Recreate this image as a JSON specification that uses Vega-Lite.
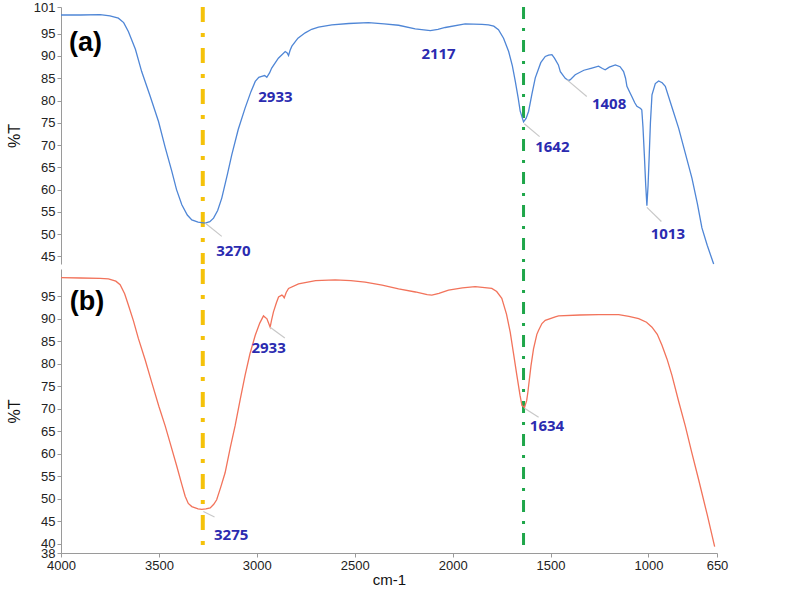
{
  "$schema": "https://vega.github.io/schema/vega-lite/v6.json",
  "background": "white",
  "padding": {"left": 6, "top": 1, "right": 5, "bottom": 5},
  "spacing": 0,
  "datasets": {
    "a": [
      {"x":4000,"y":99.2},{"x":3900,"y":99.2},{"x":3800,"y":99.3},{"x":3750,"y":99.0},{"x":3707,"y":98.5},
      {"x":3680,"y":97.5},{"x":3656,"y":95.5},{"x":3620,"y":91.5},{"x":3588,"y":86.5},{"x":3545,"y":81.0},
      {"x":3502,"y":75.3},{"x":3468,"y":69.5},{"x":3434,"y":64.1},{"x":3410,"y":60.0},{"x":3383,"y":56.6},
      {"x":3355,"y":54.3},{"x":3332,"y":53.2},{"x":3300,"y":52.7},{"x":3264,"y":52.5},{"x":3240,"y":52.8},
      {"x":3221,"y":53.6},{"x":3200,"y":55.3},{"x":3179,"y":58.1},{"x":3150,"y":63.5},{"x":3128,"y":67.8},
      {"x":3095,"y":73.5},{"x":3060,"y":78.3},{"x":3030,"y":82.0},{"x":3008,"y":84.3},{"x":2990,"y":85.2},
      {"x":2975,"y":85.4},{"x":2960,"y":85.6},{"x":2949,"y":85.2},{"x":2935,"y":86.2},{"x":2924,"y":87.3},
      {"x":2890,"y":89.5},{"x":2855,"y":91.0},{"x":2845,"y":90.7},{"x":2838,"y":90.1},{"x":2830,"y":91.3},
      {"x":2821,"y":92.2},{"x":2790,"y":94.0},{"x":2753,"y":95.2},{"x":2720,"y":96.0},{"x":2685,"y":96.5},
      {"x":2617,"y":97.0},{"x":2530,"y":97.3},{"x":2430,"y":97.5},{"x":2350,"y":97.2},{"x":2276,"y":96.9},
      {"x":2191,"y":96.1},{"x":2114,"y":95.7},{"x":2075,"y":96.0},{"x":2038,"y":96.4},{"x":1936,"y":97.2},
      {"x":1850,"y":97.1},{"x":1817,"y":97.0},{"x":1790,"y":96.7},{"x":1766,"y":95.9},{"x":1740,"y":94.0},
      {"x":1714,"y":91.0},{"x":1695,"y":87.8},{"x":1680,"y":84.3},{"x":1665,"y":80.5},{"x":1655,"y":77.6},
      {"x":1638,"y":75.2},{"x":1625,"y":76.0},{"x":1612,"y":77.6},{"x":1595,"y":81.5},{"x":1578,"y":85.1},
      {"x":1550,"y":88.5},{"x":1527,"y":89.9},{"x":1510,"y":90.2},{"x":1493,"y":90.3},{"x":1480,"y":89.5},
      {"x":1460,"y":88.0},{"x":1450,"y":86.5},{"x":1425,"y":85.0},{"x":1408,"y":84.5},{"x":1399,"y":84.7},
      {"x":1374,"y":85.8},{"x":1330,"y":86.8},{"x":1289,"y":87.3},{"x":1255,"y":87.7},{"x":1235,"y":87.2},
      {"x":1221,"y":86.9},{"x":1200,"y":87.5},{"x":1169,"y":88.0},{"x":1145,"y":87.6},{"x":1127,"y":86.5},
      {"x":1117,"y":85.0},{"x":1110,"y":83.2},{"x":1095,"y":81.8},{"x":1085,"y":80.9},{"x":1070,"y":79.5},
      {"x":1059,"y":78.7},{"x":1040,"y":78.2},{"x":1034,"y":77.9},{"x":1028,"y":74.0},{"x":1021,"y":67.8},
      {"x":1014,"y":61.0},{"x":1008,"y":56.4},{"x":1002,"y":61.0},{"x":996,"y":67.8},{"x":990,"y":75.0},
      {"x":982,"y":81.3},{"x":965,"y":83.8},{"x":948,"y":84.4},{"x":930,"y":84.0},{"x":914,"y":83.2},
      {"x":880,"y":78.5},{"x":846,"y":73.8},{"x":812,"y":68.2},{"x":778,"y":62.6},{"x":750,"y":56.8},
      {"x":727,"y":51.4},{"x":700,"y":47.5},{"x":667,"y":43.3}
    ],
    "b": [
      {"x":4000,"y":99.1},{"x":3900,"y":99.0},{"x":3800,"y":98.9},{"x":3758,"y":98.8},{"x":3720,"y":98.3},
      {"x":3698,"y":97.5},{"x":3675,"y":95.5},{"x":3656,"y":93.0},{"x":3630,"y":89.5},{"x":3605,"y":85.6},
      {"x":3570,"y":80.8},{"x":3537,"y":75.9},{"x":3500,"y":70.5},{"x":3468,"y":66.2},{"x":3440,"y":62.0},
      {"x":3409,"y":57.3},{"x":3385,"y":53.5},{"x":3366,"y":50.6},{"x":3350,"y":49.0},{"x":3332,"y":48.3},
      {"x":3300,"y":47.8},{"x":3281,"y":47.7},{"x":3260,"y":47.8},{"x":3238,"y":48.0},{"x":3220,"y":48.8},
      {"x":3205,"y":49.8},{"x":3185,"y":52.5},{"x":3162,"y":55.8},{"x":3135,"y":61.5},{"x":3111,"y":66.2},
      {"x":3085,"y":72.0},{"x":3060,"y":77.4},{"x":3035,"y":82.2},{"x":3008,"y":86.3},{"x":2985,"y":89.0},
      {"x":2966,"y":90.6},{"x":2955,"y":90.2},{"x":2949,"y":90.0},{"x":2940,"y":89.0},{"x":2932,"y":88.1},
      {"x":2925,"y":89.6},{"x":2915,"y":91.5},{"x":2900,"y":93.5},{"x":2889,"y":94.8},{"x":2872,"y":95.2},
      {"x":2866,"y":95.0},{"x":2860,"y":94.6},{"x":2850,"y":95.8},{"x":2838,"y":96.7},{"x":2787,"y":97.7},
      {"x":2700,"y":98.4},{"x":2600,"y":98.6},{"x":2520,"y":98.4},{"x":2447,"y":98.1},{"x":2360,"y":97.4},
      {"x":2276,"y":96.6},{"x":2190,"y":95.9},{"x":2130,"y":95.3},{"x":2106,"y":95.2},{"x":2070,"y":95.6},
      {"x":2021,"y":96.3},{"x":1950,"y":96.8},{"x":1885,"y":97.1},{"x":1800,"y":96.7},{"x":1775,"y":96.0},
      {"x":1749,"y":94.5},{"x":1725,"y":91.0},{"x":1706,"y":87.0},{"x":1690,"y":82.5},{"x":1672,"y":77.4},
      {"x":1656,"y":73.0},{"x":1646,"y":70.7},{"x":1633,"y":70.3},{"x":1622,"y":71.8},{"x":1616,"y":73.6},
      {"x":1600,"y":79.5},{"x":1587,"y":83.3},{"x":1570,"y":86.5},{"x":1561,"y":87.4},{"x":1544,"y":88.9},
      {"x":1527,"y":89.6},{"x":1476,"y":90.4},{"x":1459,"y":90.6},{"x":1350,"y":90.8},{"x":1255,"y":90.9},
      {"x":1152,"y":90.9},{"x":1100,"y":90.5},{"x":1050,"y":90.0},{"x":1010,"y":89.2},{"x":982,"y":88.1},
      {"x":955,"y":86.5},{"x":931,"y":84.1},{"x":905,"y":81.0},{"x":880,"y":77.4},{"x":845,"y":71.5},
      {"x":812,"y":66.2},{"x":780,"y":60.5},{"x":744,"y":54.3},{"x":700,"y":46.5},{"x":662,"y":39.4}
    ],
    "labelsA": [
      {"x":2905,"y":80.9,"label":"2933"},
      {"x":2072,"y":90.5,"label":"2117"},
      {"x":1201,"y":79.3,"label":"1408"},
      {"x":1491,"y":69.6,"label":"1642"},
      {"x":3120,"y":46.3,"label":"3270"},
      {"x":901,"y":50.1,"label":"1013"}
    ],
    "leadersA": [
      {"x":3264,"y":52.5,"x2":3179,"y2":49.5},
      {"x":1634,"y":74.8,"x2":1556,"y2":71.9},
      {"x":1417,"y":84.7,"x2":1315,"y2":80.9},
      {"x":1008,"y":56.0,"x2":934,"y2":52.85}
    ],
    "labelsB": [
      {"x":2940,"y":83.4,"label":"2933"},
      {"x":3131,"y":42.1,"label":"3275"},
      {"x":1518,"y":66.1,"label":"1634"}
    ],
    "leadersB": [
      {"x":2932,"y":88.1,"x2":2857,"y2":85.7},
      {"x":3273,"y":47.2,"x2":3216,"y2":46.0},
      {"x":1633,"y":70.1,"x2":1561,"y2":68.1}
    ]
  },
  "vconcat": [
    {
      "width": 656,
      "height": 257,
      "encoding": {
        "x": {"field": "x", "type": "quantitative", "scale": {"domain": [650, 4000], "reverse": true, "nice": false, "zero": false}, "axis": null}
      },
      "layer": [
        {
          "data": {"values": [{"x": 3276}]},
          "mark": {"type": "rule", "color": "#f5c20a", "strokeWidth": 4, "strokeDash": [15, 11, 4, 11]},
          "encoding": {}
        },
        {
          "data": {"values": [{"x": 1638}]},
          "mark": {"type": "rule", "color": "#1fa64a", "strokeWidth": 3, "strokeDash": [12, 9, 3, 9]},
          "encoding": {}
        },
        {
          "data": {"name": "a"},
          "mark": {"type": "line", "color": "#4f86d6", "strokeWidth": 1.3},
          "encoding": {
            "y": {"field": "y", "type": "quantitative", "title": "%T", "scale": {"domain": [43.3, 101], "nice": false, "zero": false},
              "axis": {"values": [45, 50, 55, 60, 65, 70, 75, 80, 85, 90, 95, 101], "labelOverlap": false, "minExtent": 28, "maxExtent": 28, "titlePadding": 11}}
          }
        },
        {
          "data": {"name": "leadersA"},
          "mark": {"type": "rule", "color": "#c8c8c8", "strokeWidth": 1.2},
          "encoding": {
            "y": {"field": "y", "type": "quantitative", "title": "%T", "axis": {"values": [45, 50, 55, 60, 65, 70, 75, 80, 85, 90, 95, 101], "labelOverlap": false, "minExtent": 28, "maxExtent": 28, "titlePadding": 11}},
            "x2": {"field": "x2"},
            "y2": {"field": "y2"}
          }
        },
        {
          "data": {"name": "labelsA"},
          "mark": {"type": "text", "font": "Open Sans", "fontWeight": "bold", "fontSize": 15, "color": "#2b2bb0", "align": "center", "baseline": "middle"},
          "encoding": {
            "y": {"field": "y", "type": "quantitative", "title": "%T", "axis": {"values": [45, 50, 55, 60, 65, 70, 75, 80, 85, 90, 95, 101], "labelOverlap": false, "minExtent": 28, "maxExtent": 28, "titlePadding": 11}},
            "text": {"field": "label"}
          }
        },
        {
          "data": {"values": [{"x": 3875, "y": 93.0, "label": "(a)"}]},
          "mark": {"type": "text", "font": "Liberation Sans", "fontWeight": "bold", "fontSize": 27, "color": "#000000", "align": "center", "baseline": "middle"},
          "encoding": {
            "y": {"field": "y", "type": "quantitative", "title": "%T", "axis": {"values": [45, 50, 55, 60, 65, 70, 75, 80, 85, 90, 95, 101], "labelOverlap": false, "minExtent": 28, "maxExtent": 28, "titlePadding": 11}},
            "text": {"field": "label"}
          }
        }
      ]
    },
    {
      "width": 656,
      "height": 284,
      "encoding": {
        "x": {"field": "x", "type": "quantitative", "title": "cm-1", "scale": {"domain": [650, 4000], "reverse": true, "nice": false, "zero": false},
          "axis": {"values": [4000, 3500, 3000, 2500, 2000, 1500, 1000, 650], "format": "d", "labelFlush": false, "labelOverlap": false, "titlePadding": 0, "titleFontSize": 15}}
      },
      "layer": [
        {
          "data": {"values": [{"x": 3276}]},
          "mark": {"type": "rule", "color": "#f5c20a", "strokeWidth": 4, "strokeDash": [15, 11, 4, 11]},
          "encoding": {}
        },
        {
          "data": {"values": [{"x": 1638}]},
          "mark": {"type": "rule", "color": "#1fa64a", "strokeWidth": 3, "strokeDash": [12, 9, 3, 9]},
          "encoding": {}
        },
        {
          "data": {"name": "b"},
          "mark": {"type": "line", "color": "#f2735b", "strokeWidth": 1.3},
          "encoding": {
            "y": {"field": "y", "type": "quantitative", "title": "%T", "scale": {"domain": [38, 101], "nice": false, "zero": false},
              "axis": {"values": [38, 40, 45, 50, 55, 60, 65, 70, 75, 80, 85, 90, 95], "labelOverlap": false, "minExtent": 28, "maxExtent": 28, "titlePadding": 11}}
          }
        },
        {
          "data": {"name": "leadersB"},
          "mark": {"type": "rule", "color": "#c8c8c8", "strokeWidth": 1.2},
          "encoding": {
            "y": {"field": "y", "type": "quantitative", "title": "%T", "axis": {"values": [38, 40, 45, 50, 55, 60, 65, 70, 75, 80, 85, 90, 95], "labelOverlap": false, "minExtent": 28, "maxExtent": 28, "titlePadding": 11}},
            "x2": {"field": "x2"},
            "y2": {"field": "y2"}
          }
        },
        {
          "data": {"name": "labelsB"},
          "mark": {"type": "text", "font": "Open Sans", "fontWeight": "bold", "fontSize": 15, "color": "#2b2bb0", "align": "center", "baseline": "middle"},
          "encoding": {
            "y": {"field": "y", "type": "quantitative", "title": "%T", "axis": {"values": [38, 40, 45, 50, 55, 60, 65, 70, 75, 80, 85, 90, 95], "labelOverlap": false, "minExtent": 28, "maxExtent": 28, "titlePadding": 11}},
            "text": {"field": "label"}
          }
        },
        {
          "data": {"values": [{"x": 3867, "y": 93.7, "label": "(b)"}]},
          "mark": {"type": "text", "font": "Liberation Sans", "fontWeight": "bold", "fontSize": 27, "color": "#000000", "align": "center", "baseline": "middle"},
          "encoding": {
            "y": {"field": "y", "type": "quantitative", "title": "%T", "axis": {"values": [38, 40, 45, 50, 55, 60, 65, 70, 75, 80, 85, 90, 95], "labelOverlap": false, "minExtent": 28, "maxExtent": 28, "titlePadding": 11}},
            "text": {"field": "label"}
          }
        }
      ]
    }
  ],
  "config": {
    "view": {"stroke": null},
    "concat": {"spacing": 0},
    "axis": {
      "labelFont": "Liberation Sans",
      "labelFontSize": 13,
      "labelColor": "#222222",
      "labelOverlap": false,
      "domainColor": "#9a9a9a",
      "tickColor": "#9a9a9a",
      "tickSize": 4,
      "labelPadding": 2,
      "grid": false,
      "titleFont": "Liberation Sans",
      "titleFontWeight": "normal",
      "titleFontSize": 16,
      "titleColor": "#111111"
    },
    "axisY": {"labelOverlap": false}
  }
}
